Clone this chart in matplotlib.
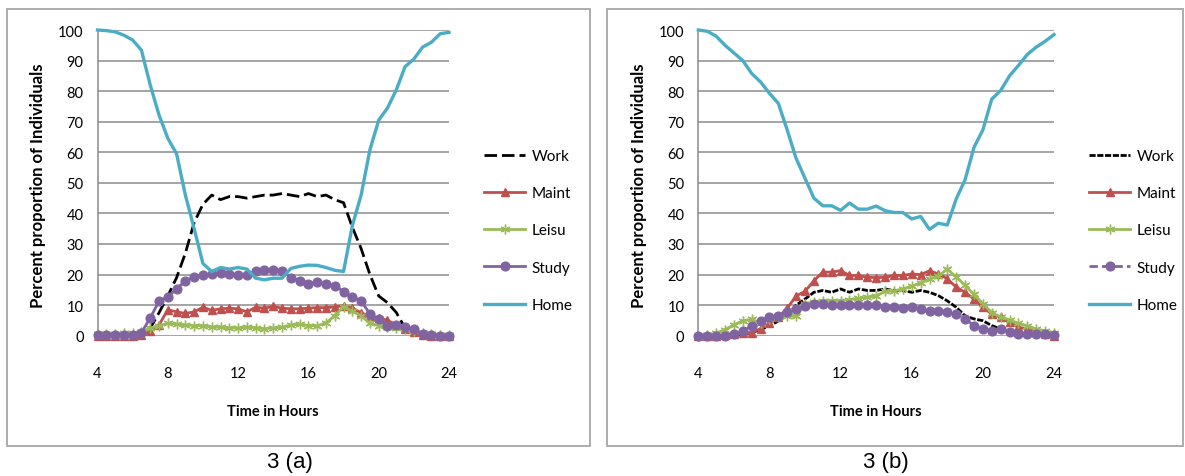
import matplotlib
matplotlib.use('Agg')
import matplotlib.pyplot as plt
from matplotlib.patches import Rectangle

hours = [4, 4.5, 5, 5.5, 6, 6.5, 7, 7.5, 8, 8.5, 9, 9.5, 10, 10.5, 11, 11.5, 12, 12.5,
         13, 13.5, 14, 14.5, 15, 15.5, 16, 16.5, 17, 17.5, 18, 18.5, 19, 19.5, 20, 20.5,
         21, 21.5, 22, 22.5, 23, 23.5, 24]
x_ticks = [4, 8, 12, 16, 20, 24]
y_ticks = [0, 10, 20, 30, 40, 50, 60, 70, 80, 90, 100]
series_names = ['Work', 'Maint', 'Leisu', 'Study', 'Home']
captions = ['3 (a)', '3 (b)']
x_label = 'Time in Hours'
y_label = 'Percent proportion of Individuals'

# Panel (a)
work_a = [0, 0, 0, 0, 0, 0.5, 2.5, 7.5, 13, 19, 27, 37, 43, 46, 44.5, 45.5, 45.5, 45, 45.5, 46,
          46, 46.5, 46, 45.5, 46.5, 45.5, 46, 44.5, 43.5, 35.5, 28.5, 20, 13, 10.8, 7.6, 2.5, 0.8,
          0.3, 0, 0, 0]
maint_a = [0, 0, 0, 0, 0, 0.3, 1.5, 3.5, 8.5, 7.8, 7.3, 7.8, 9.3, 8.3, 8.8, 9, 8.8, 7.8, 9.3, 9,
           9.6, 9, 8.8, 8.8, 9, 9.2, 9.2, 9.4, 9.8, 9, 7.5, 6.3, 5.8, 5, 3.6, 2.2, 1.1, 0.2, 0, 0, 0]
leisu_a = [0.5, 0.5, 0.5, 0.8, 1, 1.2, 2.5, 3.2, 4, 3.8, 3.5, 3.3, 3.3, 2.8, 2.8, 2.6, 2.5, 2.8,
           2.6, 2.3, 2.5, 2.7, 3.5, 3.8, 3.3, 3.2, 4.2, 6.5, 9.5, 8, 6.5, 4, 3.3, 3, 2.6, 2.2, 1.5,
           0.8, 0.5, 0.3, 0.2]
study_a = [0.3, 0.3, 0.3, 0.3, 0.3, 1, 5.8, 11.3, 12.7, 15.3, 18, 19.2, 19.8, 20.2, 20.6, 20.2,
           19.8, 19.8, 21.3, 21.6, 21.6, 21.3, 19, 18, 17, 17.5, 17, 16.4, 14.4, 12.6, 11.4, 7.1,
           5.5, 3.3, 3.4, 2.7, 2.2, 0.5, 0.3, 0, 0]
home_a = [100, 99.8, 99.4, 98.3, 96.7, 93.4, 82, 72.2, 64.6, 59.5, 46, 35, 23.6, 21, 22.3, 21.8,
          22.3, 21.8, 18.8, 18.3, 18.8, 18.8, 22, 22.7, 23.1, 23, 22.3, 21.4, 21, 36, 46, 60.8,
          70.5, 74.5, 80.4, 88, 90.5, 94.4, 96, 98.8, 99.2]

# Panel (b)
work_b = [0, 0, 0, 0, 0.2, 0.5, 1, 2, 3.2, 4.8, 6.7, 10, 12, 14.2, 14.8, 14.2, 15.3, 14.2, 15.3,
          14.8, 14.8, 15.3, 14.8, 14.8, 14.2, 14.8, 14.2, 13.1, 11.4, 9.3, 6.5, 5.5, 4.9, 3.3, 2.2,
          1.1, 0.5, 0.3, 0.2, 0, 0]
maint_b = [0, 0, 0, 0.3, 0.5, 0.8, 1, 2.3, 4, 6, 9, 13, 14.5, 18, 20.8, 20.8, 21.3, 19.7, 19.7,
           19.1, 19, 19.1, 19.7, 19.7, 20.2, 20, 21.2, 20.2, 18.6, 15.9, 14.2, 12, 9.3, 7.1, 6,
           4.4, 2.7, 2.3, 1.1, 0.5, 0]
leisu_b = [0, 0.3, 0.8, 2, 3.5, 4.9, 5.3, 4.2, 5.5, 6, 6.5, 6.3, 10.5, 11, 11.5, 11.5, 11.5, 11.8,
           12.2, 12.6, 13, 14.5, 14.6, 15.3, 16.2, 17.3, 18.5, 19.5, 21.8, 19.2, 16.5, 13.5, 10.5,
           7.5, 6.2, 5.1, 4, 3.2, 2.2, 1.5, 1]
study_b = [0, 0, 0, 0, 0.4, 1.5, 3.2, 4.9, 6, 6.5, 7.6, 8.7, 9.8, 10.4, 10.4, 10, 10.2, 10, 10.2,
           10.2, 10.2, 9.5, 9.5, 9.2, 9.5, 8.7, 8.2, 8.2, 7.6, 7.1, 5.5, 3.3, 2.2, 1.7, 2.2, 1.1,
           0.5, 0.5, 0.5, 0.5, 0.2]
home_b = [100, 99.6, 98, 95, 92.5, 90, 85.8, 83, 79.3, 76, 67.3, 58, 51.5, 45, 42.5, 42.5, 41,
          43.4, 41.4, 41.4, 42.4, 40.9, 40.3, 40.3, 38.2, 39, 34.8, 36.8, 36.2, 44.7, 51, 61.6,
          67.3, 77.4, 80.2, 85, 88.4, 92, 94.4, 96.3, 98.5]

C_WORK = '#000000'
C_MAINT = '#C0504D'
C_LEISU = '#9BBB59'
C_STUDY = '#8064A2'
C_HOME = '#4BACC6'
C_GRID = '#8C8C8C'

FONT = 'Lato'
plt.rcParams['font.family'] = [FONT, 'DejaVu Sans']

W, H = 1185, 477
fig = plt.figure(figsize=(W / 100, H / 100), dpi=100)

# outer frames
for (x0, x1) in [(7, 590), (607, 1183)]:
    fig.patches.append(Rectangle((x0 / W, 1 - 447 / H), (x1 - x0) / W, (447 - 10) / H,
                                 transform=fig.transFigure, fill=False,
                                 edgecolor='#A6A6A6', linewidth=1.3))

panels = [
    dict(data=[work_a, maint_a, leisu_a, study_a, home_a], left=97.5, right=449,
         work_ls=(0, (4.5, 1.8)), study_ls='-', cap_x=290, leg_x=484),
    dict(data=[work_b, maint_b, leisu_b, study_b, home_b], left=698.3, right=1054,
         work_ls=(0, (2.2, 0.6)), study_ls=(0, (3, 1.5)), cap_x=886, leg_x=1089),
]

top_px, bot_px = 31, 336.7
for i, p in enumerate(panels):
    ax = fig.add_axes([p['left'] / W, 1 - bot_px / H, (p['right'] - p['left']) / W,
                       (bot_px - top_px) / H])
    work, maint, leisu, study, home = p['data']
    ax.set_xlim(4, 24)
    ax.set_ylim(0, 100)
    ax.set_xticks(x_ticks)
    ax.set_yticks(y_ticks)
    ax.grid(axis='y', color=C_GRID, linewidth=1.1, zorder=0)
    ax.set_axisbelow(True)
    for s in ['top', 'right', 'bottom']:
        ax.spines[s].set_visible(False)
    ax.spines['left'].set_color(C_GRID)
    ax.spines['left'].set_linewidth(1.1)
    ax.tick_params(axis='both', length=0, labelsize=10.5, colors='#000000')
    ax.tick_params(axis='x', pad=22)
    ax.tick_params(axis='y', pad=10)

    h_work, = ax.plot(hours, work, color=C_WORK, linewidth=2.0, linestyle=p['work_ls'],
                      clip_on=False, zorder=3, label='Work')
    h_maint, = ax.plot(hours, maint, color=C_MAINT, linewidth=2.0, marker='^',
                       markersize=6, clip_on=False, zorder=4, label='Maint')
    h_leisu, = ax.plot(hours, leisu, color=C_LEISU, linewidth=2.0, marker=(6, 2, 0),
                       markersize=7, markeredgewidth=1.0, clip_on=False, zorder=5, label='Leisu')
    h_study, = ax.plot(hours, study, color=C_STUDY, linewidth=2.0, linestyle=p['study_ls'],
                       marker='o', markersize=6.3, clip_on=False, zorder=6, label='Study')
    h_home, = ax.plot(hours, home, color=C_HOME, linewidth=2.4, clip_on=False, zorder=7,
                      label='Home')

    cx = (p['left'] + p['right']) / 2
    fig.text(cx / W, 1 - 412 / H, x_label, ha='center', va='center', fontsize=10.5,
             fontweight='bold')
    fig.text((p['left'] - 59) / W, 1 - ((top_px + bot_px) / 2 + 2) / H, y_label, ha='center',
             va='center', rotation=90, fontsize=12, fontweight='bold')
    fig.text(p['cap_x'] / W, 1 - 463 / H, captions[i], ha='center', va='center', fontsize=16,
             family='Liberation Sans')

    fig.legend(handles=[h_work, h_maint, h_leisu, h_study, h_home], labels=series_names,
               loc='upper left', bbox_to_anchor=(p['leg_x'] / W, 1 - 150 / H),
               bbox_transform=fig.transFigure, frameon=False, fontsize=11,
               handlelength=2.7, handletextpad=0.4, labelspacing=1.52, borderpad=0,
               borderaxespad=0)

fig.savefig('out.png', dpi=100)
